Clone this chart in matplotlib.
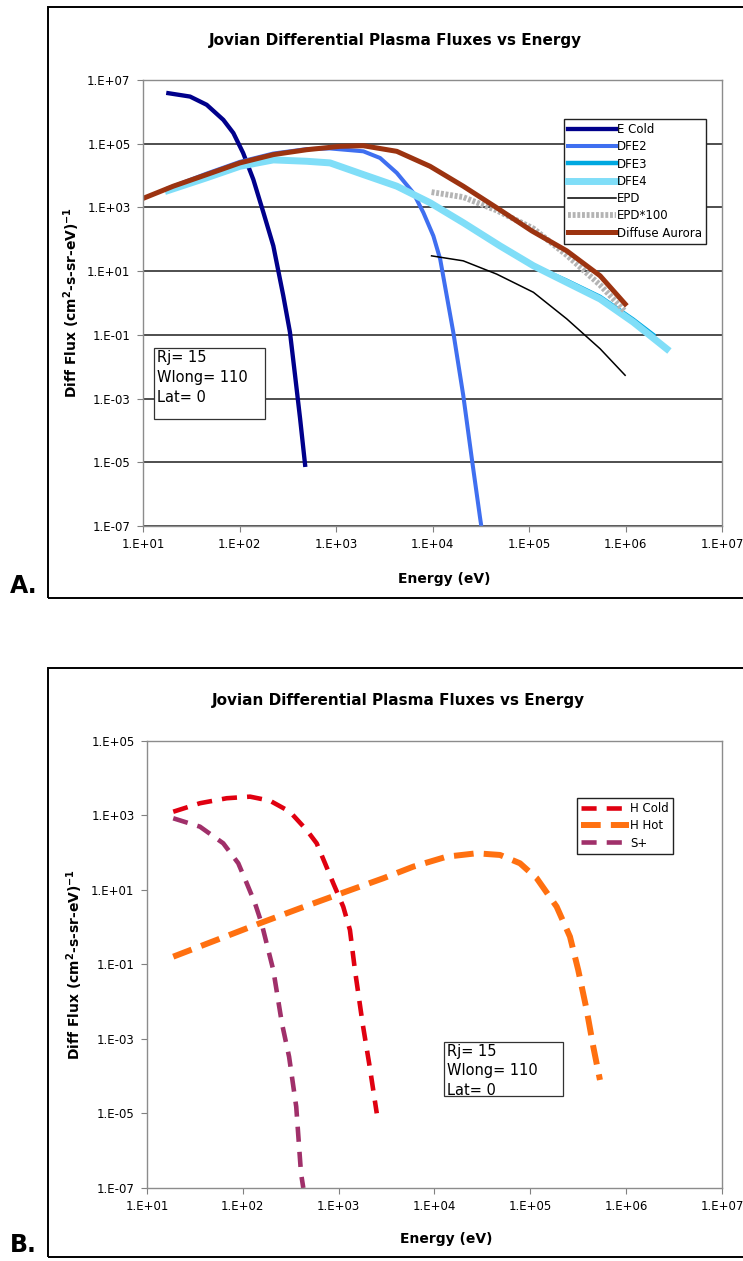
import matplotlib
matplotlib.use('Agg')
import matplotlib.pyplot as plt
from matplotlib.patches import Rectangle
from matplotlib.ticker import FixedLocator, FuncFormatter

# PANEL A DATA (energy in eV, flux in (cm2-s-sr-eV)^-1)
ecold_E = [1.83e1, 3.07e1, 4.57e1, 6.79e1, 8.63e1, 1.09e2, 1.39e2, 1.77e2, 2.24e2, 2.84e2, 3.33e2, 3.76e2, 4.24e2, 4.78e2]
ecold_F = [3.84e6, 3.01e6, 1.66e6, 5.6e5, 2.16e5, 5.1e4, 7.5e3, 6.8e2, 6.18e1, 1.69e0, 1.21e-1, 5.4e-3, 2.37e-4, 8.3e-6]

dfe2_E = [1.82e1, 4.57e1, 1.01e2, 2.24e2, 4.97e2, 8.67e2, 1.92e3, 2.86e3, 4.26e3, 6.31e3, 8.04e3,
          1.02e4, 1.20e4, 1.64e4, 2.08e4, 2.55e4, 3.11e4, 3.20e4]
dfe2_F = [3.98e3, 1.15e4, 2.69e4, 4.90e4, 6.76e4, 7.08e4, 5.75e4, 3.55e4, 1.21e4, 2.88e3, 6.82e2,
          1.27e2, 2.37e1, 1.21e-1, 1.27e-3, 1.33e-5, 1.78e-7, 1.0e-7]

dfe3_E = [1.82e1, 4.57e1, 1.01e2, 2.24e2, 4.97e2, 8.67e2, 1.92e3, 4.26e3, 9.42e3, 2.08e4, 5.01e4,
          1.11e5, 2.45e5, 5.45e5, 1.20e6, 1.93e6]
dfe3_F = [3.39e3, 8.51e3, 1.95e4, 3.09e4, 2.80e4, 2.49e4, 1.07e4, 4.63e3, 1.40e3, 3.31e2, 6.17e1,
          1.47e1, 5.0e0, 1.55e0, 3.0e-1, 1.0e-1]

dfe4_E = [1.82e1, 4.57e1, 1.01e2, 2.24e2, 4.97e2, 8.67e2, 1.92e3, 4.26e3, 9.42e3, 2.08e4, 5.01e4,
          1.11e5, 2.45e5, 5.45e5, 1.20e6, 2.67e6]
dfe4_F = [3.39e3, 8.51e3, 1.95e4, 3.09e4, 2.80e4, 2.49e4, 1.07e4, 4.63e3, 1.40e3, 3.31e2, 6.17e1,
          1.47e1, 4.44e0, 1.33e0, 2.51e-1, 3.63e-2]

epd_E = [9.77e3, 2.08e4, 4.62e4, 1.11e5, 2.46e5, 5.45e5, 9.9e5]
epd_F = [3.01e1, 2.10e1, 8.05e0, 2.16e0, 3.16e-1, 3.65e-2, 5.37e-3]
epd100_F = [3.01e3, 2.10e3, 8.05e2, 2.16e2, 3.16e1, 3.65e0, 5.37e-1]

aurora_E = [1.0e1, 2.06e1, 4.57e1, 1.01e2, 2.24e2, 4.97e2, 1.10e3, 1.92e3, 4.26e3, 9.42e3, 2.08e4,
            4.62e4, 1.07e5, 2.46e5, 5.45e5, 9.9e5]
aurora_F = [1.91e3, 4.63e3, 1.07e4, 2.49e4, 4.53e4, 6.46e4, 8.24e4, 8.61e4, 5.75e4, 1.95e4, 4.63e3,
            9.77e2, 1.82e2, 4.32e1, 7.13e0, 9.3e-1]

# PANEL B DATA
hcold_E = [1.88e1, 3.57e1, 6.79e1, 1.19e2, 1.92e2, 3.10e2, 4.63e2, 5.90e2, 7.21e2, 8.79e2, 1.117e3,
           1.312e3, 1.479e3, 1.778e3, 2.109e3, 2.50e3]
hcold_F = [1.26e3, 2.13e3, 2.90e3, 3.20e3, 2.49e3, 1.26e3, 4.08e2, 1.79e2, 5.21e1, 1.51e1, 3.56e0,
           8.43e-1, 7.11e-2, 2.63e-3, 1.80e-4, 1.01e-5]

hhot_E = [1.88e1, 5.33e1, 1.51e2, 3.95e2, 9.55e2, 2.92e3, 6.01e3, 1.34e4, 2.75e4, 4.83e4, 7.80e4,
          1.167e5, 1.884e5, 2.594e5, 3.162e5, 3.873e5, 4.54e5, 5.33e5]
hhot_F = [1.62e-1, 4.55e-1, 1.28e0, 3.23e0, 7.35e0, 2.06e1, 4.23e1, 7.83e1, 9.66e1, 8.71e1, 5.21e1,
          2.06e1, 3.55e0, 5.57e-1, 7.11e-2, 6.01e-3, 6.21e-4, 7.94e-5]

splus_E = [1.88e1, 3.57e1, 6.25e1, 8.97e1, 1.10e2, 1.34e2, 1.57e2, 1.77e2, 2.08e2, 2.56e2, 3.04e2,
           3.61e2, 4.05e2, 4.28e2]
splus_F = [8.41e2, 5.01e2, 1.79e2, 5.21e1, 1.51e1, 4.40e0, 1.28e0, 3.72e-1, 7.11e-2, 2.63e-3, 3.35e-4,
           1.52e-5, 2.48e-7, 1.0e-7]

xticks = [1e1, 1e2, 1e3, 1e4, 1e5, 1e6, 1e7]
yticks_A = [1e-7, 1e-5, 1e-3, 1e-1, 1e1, 1e3, 1e5, 1e7]
yticks_B = [1e-7, 1e-5, 1e-3, 1e-1, 1e1, 1e3, 1e5]
info_text = 'Rj= 15\nWlong= 110\nLat= 0'
title = 'Jovian Differential Plasma Fluxes vs Energy'


def excel_fmt(v, pos):
    s = '%.0E' % v          # e.g. 1E+07
    return s.replace('E', '.E')


def setup_axes(ax, yticks):
    ax.set_xscale('log')
    ax.set_yscale('log')
    ax.set_xlim(1e1, 1e7)
    ax.set_ylim(yticks[0], yticks[-1])
    ax.xaxis.set_major_locator(FixedLocator(xticks))
    ax.yaxis.set_major_locator(FixedLocator(yticks))
    ax.xaxis.set_minor_locator(FixedLocator([]))
    ax.yaxis.set_minor_locator(FixedLocator([]))
    ax.xaxis.set_major_formatter(FuncFormatter(excel_fmt))
    ax.yaxis.set_major_formatter(FuncFormatter(excel_fmt))
    ax.tick_params(labelsize=8.5, length=4, width=0.8, color='#808080', pad=5)
    for s in ax.spines.values():
        s.set_color('#8c8c8c')
        s.set_linewidth(1.0)
    ax.set_xlabel('Energy (eV)', fontsize=10, fontweight='bold')
    ax.set_ylabel('Diff Flux (cm$^\\mathbf{2}$-s-sr-eV)$^\\mathbf{-1}$', fontsize=10, fontweight='bold')


def info_box(ax, x0, y0, x1, y1, ls):
    # box drawn on its own, text placed at its top-left like the spreadsheet text box
    ax.add_patch(Rectangle((x0, y1), x1 - x0, y0 - y1, transform=ax.transAxes, fill=True,
                           facecolor='white', edgecolor='#333333', lw=0.9, zorder=5))
    ax.text(x0 + 0.005, y0 - 0.004, info_text, transform=ax.transAxes, fontsize=10.5,
            va='top', ha='left', linespacing=ls, zorder=6)


fig = plt.figure(figsize=(7.43, 12.61), dpi=100)

# outer frames and panel letters
fig.patches.append(Rectangle((0.0646, 0.5258), 1.0, 0.4686, transform=fig.transFigure,
                             fill=False, edgecolor='black', linewidth=1.4))
fig.patches.append(Rectangle((0.0646, 0.0032), 1.0, 0.4671, transform=fig.transFigure,
                             fill=False, edgecolor='black', linewidth=1.4))
fig.text(0.013, 0.5258, 'A.', fontsize=17, fontweight='bold', va='bottom')
fig.text(0.013, 0.0032, 'B.', fontsize=17, fontweight='bold', va='bottom')
fig.text(0.532, 1 - 40 / 1261, title, fontsize=11, fontweight='bold', ha='center', va='center')
fig.text(0.536, 1 - 700 / 1261, title, fontsize=11, fontweight='bold', ha='center', va='center')

# PANEL A
axA = fig.add_axes([0.1925, 0.5829, 0.7793, 0.3537])
setup_axes(axA, yticks_A)
axA.grid(True, axis='y', color='#404040', linewidth=1.3)
axA.set_axisbelow(True)
axA.plot(ecold_E, ecold_F, color='#00008b', lw=3.1, label='E Cold')
axA.plot(dfe2_E, dfe2_F, color='#3f6ff0', lw=2.9, label='DFE2')
axA.plot(dfe3_E, dfe3_F, color='#00a8e0', lw=3.2, label='DFE3')
axA.plot(dfe4_E, dfe4_F, color='#80def8', lw=5.0, label='DFE4')
axA.plot(epd_E, epd_F, color='black', lw=1.1, label='EPD')
axA.plot(epd_E, epd100_F, color='#b4b4b4', lw=4.2, linestyle=(0, (0.5, 0.3)), label='EPD*100')
axA.plot(aurora_E, aurora_F, color='#9c3310', lw=3.6, label='Diffuse Aurora')
legA = axA.legend(loc='upper right', bbox_to_anchor=(0.972, 0.9126), borderaxespad=0,
                  fontsize=8.5, handlelength=4.0, handletextpad=0.1, labelspacing=0.36,
                  fancybox=False, framealpha=1, edgecolor='#222222', borderpad=0.35)
legA.get_frame().set_linewidth(1.0)
axA.yaxis.set_label_coords(-0.105, 0.5)
axA.xaxis.set_label_coords(0.52, -0.103)
info_box(axA, 0.019, 0.399, 0.2107, 0.240, 1.42)

# PANEL B
axB = fig.add_axes([0.1978, 0.0579, 0.7739, 0.3545])
setup_axes(axB, yticks_B)
axB.plot(hcold_E, hcold_F, color='#e00010', lw=3.3, linestyle=(0, (3.3, 2.2)), label='H Cold')
axB.plot(hhot_E, hhot_F, color='#ff7010', lw=4.3, linestyle=(0, (3.3, 1.7)), label='H Hot')
axB.plot(splus_E, splus_F, color='#a0306a', lw=3.3, linestyle=(0, (3.3, 2.2)), label='S+')
legB = axB.legend(loc='upper right', bbox_to_anchor=(0.915, 0.8725), borderaxespad=0,
                  fontsize=8.5, handlelength=4.1, handletextpad=0.1, labelspacing=0.36,
                  fancybox=False, framealpha=1, edgecolor='#222222', borderpad=0.35)
legB.get_frame().set_linewidth(1.0)
axB.yaxis.set_label_coords(-0.108, 0.5)
axB.xaxis.set_label_coords(0.52, -0.098)
info_box(axB, 0.5165, 0.3266, 0.7235, 0.2058, 1.38)

plt.savefig('out.png', dpi=100)
